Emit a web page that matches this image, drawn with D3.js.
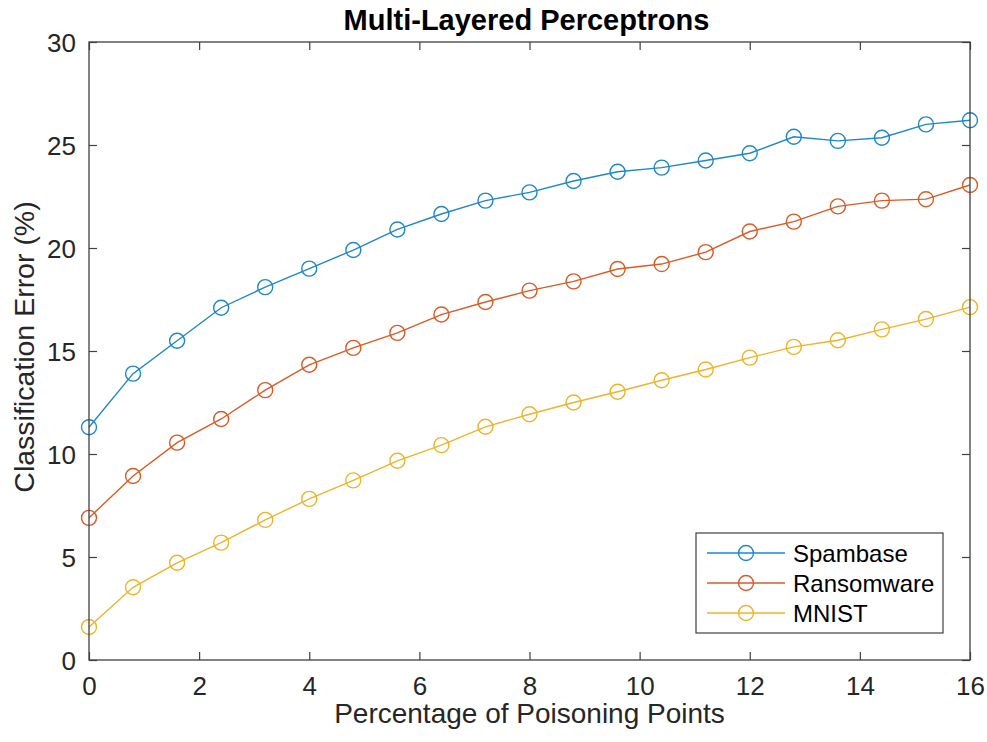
<!DOCTYPE html>
<html>
<head>
<meta charset="utf-8">
<script src="https://cdn.jsdelivr.net/npm/d3@7"></script>
<style>
  html, body { margin: 0; padding: 0; background: #fff; }
  svg { display: block; font-family: "Liberation Sans", Arial, Helvetica, sans-serif; }
</style>
</head>
<body>
<svg id="chart" width="987" height="742"></svg>
<script>
// Poisoning rate (%) on the x axis
const poisonPct = [0, 0.8, 1.6, 2.4, 3.2, 4.0, 4.8, 5.6, 6.4, 7.2, 8.0, 8.8, 9.6, 10.4, 11.2, 12.0, 12.8, 13.6, 14.4, 15.2, 16.0];

// Classification error (%) for each dataset
const spambase   = [11.3, 13.9, 15.5, 17.1, 18.1, 19.0, 19.9, 20.9, 21.65, 22.3, 22.7, 23.25, 23.7, 23.9, 24.25, 24.6, 25.4, 25.2, 25.35, 26.0, 26.2];
const ransomware = [6.9, 8.93, 10.55, 11.7, 13.1, 14.33, 15.15, 15.88, 16.77, 17.38, 17.93, 18.38, 18.98, 19.22, 19.8, 20.8, 21.28, 22.02, 22.3, 22.37, 23.06];
const mnist      = [1.6, 3.53, 4.72, 5.7, 6.8, 7.82, 8.72, 9.67, 10.43, 11.32, 11.93, 12.5, 13.02, 13.58, 14.1, 14.68, 15.2, 15.52, 16.05, 16.55, 17.13];

const seriesNames = ["Spambase", "Ransomware", "MNIST"];
const seriesColors = ["#1f86cc", "#db5a26", "#edb42a"];
const xTicks = [0, 2, 4, 6, 8, 10, 12, 14, 16];
const yTicks = [0, 5, 10, 15, 20, 25, 30];

const series = [spambase, ransomware, mnist].map((vals, i) => ({
  name: seriesNames[i],
  color: seriesColors[i],
  points: vals.map((v, j) => ({ x: poisonPct[j], y: v }))
}));

const svg = d3.select("#chart");
const margin = { left: 89, right: 17, top: 42, bottom: 82 };
const W = 987, H = 742;
const x = d3.scaleLinear().domain([0, 16]).range([margin.left, W - margin.right]);
const y = d3.scaleLinear().domain([0, 30]).range([H - margin.bottom, margin.top]);
const axisColor = "#404040";
const tickLen = 8;

// Series lines and circle markers
const line = d3.line().x(d => x(d.x)).y(d => y(d.y));
const g = svg.append("g");
series.forEach(s => {
  g.append("path")
    .attr("d", line(s.points))
    .attr("fill", "none")
    .attr("stroke", s.color)
    .attr("stroke-width", 1.4);
  g.selectAll(null).data(s.points).enter().append("circle")
    .attr("cx", d => x(d.x))
    .attr("cy", d => y(d.y))
    .attr("r", 7.5)
    .attr("fill", "none")
    .attr("stroke", s.color)
    .attr("stroke-width", 1.4);
});

// Axes with inward ticks, mirrored on the top and right edges
function styleAxis(sel) {
  sel.select(".domain").remove();
  sel.selectAll(".tick line").attr("stroke", axisColor).attr("stroke-width", 1.2);
  sel.selectAll(".tick text").attr("fill", "#262626").style("font-size", "26px");
}
const xb = svg.append("g").attr("transform", `translate(0,${y(0)})`)
  .call(d3.axisBottom(x).tickValues(xTicks).tickFormat(d3.format("d")).tickSizeInner(-tickLen).tickSizeOuter(0));
styleAxis(xb);
xb.selectAll(".tick text").attr("dy", 0).attr("y", 35);
const xt = svg.append("g").attr("transform", `translate(0,${y(30)})`)
  .call(d3.axisTop(x).tickValues(xTicks).tickFormat("").tickSizeInner(-tickLen).tickSizeOuter(0));
styleAxis(xt);
const yl = svg.append("g").attr("transform", `translate(${x(0)},0)`)
  .call(d3.axisLeft(y).tickValues(yTicks).tickFormat(d3.format("d")).tickSizeInner(-tickLen).tickSizeOuter(0));
styleAxis(yl);
yl.selectAll(".tick text").attr("x", -13).attr("dy", "0.38em");
const yr = svg.append("g").attr("transform", `translate(${x(16)},0)`)
  .call(d3.axisRight(y).tickValues(yTicks).tickFormat("").tickSizeInner(-tickLen).tickSizeOuter(0));
styleAxis(yr);

// Plot box
svg.append("rect")
  .attr("x", x(0)).attr("y", y(30))
  .attr("width", x(16) - x(0)).attr("height", y(0) - y(30))
  .attr("fill", "none").attr("stroke", axisColor).attr("stroke-width", 1.3);

// Title and axis labels
svg.append("text")
  .attr("x", (x(0) + x(16)) / 2 - 3).attr("y", 30)
  .attr("text-anchor", "middle")
  .style("font-size", "29px").style("font-weight", "bold").attr("fill", "#000")
  .text("Multi-Layered Perceptrons");
svg.append("text")
  .attr("x", (x(0) + x(16)) / 2).attr("y", 723)
  .attr("text-anchor", "middle")
  .style("font-size", "28px").attr("fill", "#262626")
  .text("Percentage of Poisoning Points");
svg.append("text")
  .attr("transform", `translate(34,${(y(0) + y(30)) / 2 - 4}) rotate(-90)`)
  .attr("text-anchor", "middle")
  .style("font-size", "28.5px").attr("fill", "#262626")
  .text("Classification Error (%)");

// Legend
const lg = svg.append("g").attr("transform", "translate(696,533)");
lg.append("rect").attr("width", 247).attr("height", 100)
  .attr("fill", "#fff").attr("stroke", axisColor).attr("stroke-width", 1.2);
series.forEach((s, i) => {
  const ly = 20 + i * 30;
  lg.append("line").attr("x1", 11).attr("x2", 89).attr("y1", ly).attr("y2", ly)
    .attr("stroke", s.color).attr("stroke-width", 1.4);
  lg.append("circle").attr("cx", 50).attr("cy", ly).attr("r", 7.5)
    .attr("fill", "none").attr("stroke", s.color).attr("stroke-width", 1.4);
  lg.append("text").attr("x", 97).attr("y", ly).attr("dy", "0.36em")
    .style("font-size", "24px").attr("fill", "#000")
    .text(s.name);
});
</script>
</body>
</html>
